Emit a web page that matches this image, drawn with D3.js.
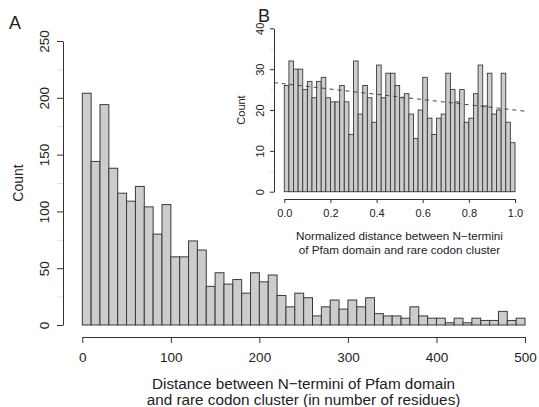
<!DOCTYPE html>
<html>
<head>
<meta charset="utf-8">
<script src="https://d3js.org/d3.v7.min.js"></script>
<style>
  body { margin: 0; background: #fff; }
  svg text { font-family: "Liberation Sans", Arial, Helvetica, sans-serif; fill: #222; }
</style>
</head>
<body>
<div id="chart"></div>
<script>
// Main histogram: counts per 10-residue bin, 0..500
const mainBinWidth = 10
const mainCounts = [204, 144, 194, 138, 116, 109, 122, 104, 80, 106,
                    60, 60, 74, 66, 34, 46, 36, 40, 28, 46,
                    38, 44, 26, 16, 28, 24, 8, 16, 22, 14,
                    22, 16, 24, 10, 8, 8, 6, 16, 8, 6,
                    6, 2, 6, 2, 6, 4, 4, 12, 4, 6]
const mainXTicks = [0, 100, 200, 300, 400, 500]
const mainYTicks = [0, 50, 100, 150, 200, 250]
const mainYMinor = [25, 75, 125, 175, 225]

// Inset histogram: counts per 0.02 bin, 0..1
const insetBinWidth = 0.02
const insetCounts = [26, 32, 30, 30, 25, 27, 23, 27, 28, 23,
                     22, 22, 26, 22, 14, 32, 19, 26, 23, 17,
                     31, 23, 29, 29, 26, 23, 24, 19, 13, 20,
                     28, 18, 14, 18, 19, 29, 25, 22, 25, 17,
                     18, 24, 31, 21, 29, 19, 20, 29, 17, 12]
const insetXTicks = [0, 0.2, 0.4, 0.6, 0.8, 1.0]
const insetYTicks = [0, 10, 20, 30, 40]
const insetYMinor = [5, 15, 25, 35]
// dashed trend line, endpoints
const trendX = [-0.045, 1.045]
const trendY = [26.7, 19.7]

const w = 539, h = 407
const svg = d3.select("#chart").append("svg").attr("width", w).attr("height", h)

const barFill = "#cccccc", barStroke = "#3a3a3a", axisCol = "#333"
const font = "Liberation Sans, Arial, sans-serif"

// ---------- main panel ----------
const x = d3.scaleLinear().domain([0, 500]).range([82.3, 525])
const y = d3.scaleLinear().domain([0, 250]).range([325, 41])

svg.append("g").selectAll("rect")
  .data(mainCounts)
  .enter()
  .append("rect")
  .attr("x", (d, i) => x(i * mainBinWidth))
  .attr("y", d => y(d))
  .attr("width", (d, i) => x((i + 1) * mainBinWidth) - x(i * mainBinWidth))
  .attr("height", d => y(0) - y(d))
  .attr("fill", barFill)
  .attr("stroke", barStroke)
  .attr("stroke-width", 1)

const xAxis = svg.append("g")
  .attr("transform", "translate(0,337)")
  .call(d3.axisBottom(x).tickValues(mainXTicks).tickFormat(d3.format("d"))
    .tickSize(6).tickSizeOuter(0).tickPadding(9))
xAxis.selectAll("path, line").attr("stroke", axisCol)
xAxis.selectAll("text").attr("font-size", 13.5).style("font-family", font)

const yAxis = svg.append("g")
  .attr("transform", "translate(63,0)")
  .call(d3.axisLeft(y).tickValues(mainYTicks).tickSize(6).tickSizeOuter(0))
yAxis.selectAll("path, line").attr("stroke", axisCol)
yAxis.selectAll("text")
  .attr("x", 0).attr("y", -14).attr("dy", 0)
  .attr("transform", "rotate(-90)")
  .attr("text-anchor", "middle")
  .attr("font-size", 13.5)
  .style("font-family", font)

const yMinor = svg.append("g")
  .attr("transform", "translate(63,0)")
  .call(d3.axisLeft(y).tickValues(mainYMinor).tickSize(6).tickFormat(""))
yMinor.select("path").remove()
yMinor.selectAll("line").attr("stroke", "#e2e2e2")

svg.append("text")
  .attr("transform", "translate(23,183) rotate(-90)")
  .attr("text-anchor", "middle")
  .attr("font-size", 14)
  .text("Count")

svg.append("text").attr("x", 303.5).attr("y", 388.5).attr("text-anchor", "middle")
  .attr("font-size", 15.3).text("Distance between N\u2212termini of Pfam domain")
svg.append("text").attr("x", 303.5).attr("y", 405).attr("text-anchor", "middle")
  .attr("font-size", 15.3).text("and rare codon cluster (in number of residues)")

svg.append("text").attr("x", 9).attr("y", 29).attr("font-size", 18).text("A")

// ---------- inset panel ----------
const xi = d3.scaleLinear().domain([0, 1]).range([284.3, 515])
const yi = d3.scaleLinear().domain([0, 40]).range([191.7, 28.3])

svg.append("g").selectAll("rect")
  .data(insetCounts)
  .enter()
  .append("rect")
  .attr("x", (d, i) => xi(i * insetBinWidth))
  .attr("y", d => yi(d))
  .attr("width", (d, i) => xi((i + 1) * insetBinWidth) - xi(i * insetBinWidth))
  .attr("height", d => yi(0) - yi(d))
  .attr("fill", barFill)
  .attr("stroke", barStroke)
  .attr("stroke-width", 0.9)

svg.append("path")
  .datum(trendX.map((v, i) => [v, trendY[i]]))
  .attr("d", d3.line().x(d => xi(d[0])).y(d => yi(d[1])))
  .attr("fill", "none")
  .attr("stroke", "#444")
  .attr("stroke-width", 1)
  .attr("stroke-dasharray", "4,4")

const xiAxis = svg.append("g")
  .attr("transform", "translate(0,199)")
  .call(d3.axisBottom(xi).tickValues(insetXTicks).tickFormat(d3.format(".1f"))
    .tickSize(4).tickSizeOuter(0).tickPadding(6))
xiAxis.selectAll("path, line").attr("stroke", axisCol)
xiAxis.selectAll("text").attr("font-size", 11).style("font-family", font)

const yiAxis = svg.append("g")
  .attr("transform", "translate(274,0)")
  .call(d3.axisLeft(yi).tickValues(insetYTicks).tickSize(4).tickSizeOuter(0))
yiAxis.selectAll("path, line").attr("stroke", axisCol)
yiAxis.selectAll("text")
  .attr("x", 0).attr("y", -10).attr("dy", 0)
  .attr("transform", "rotate(-90)")
  .attr("text-anchor", "middle")
  .attr("font-size", 11)
  .style("font-family", font)

const yiMinor = svg.append("g")
  .attr("transform", "translate(274,0)")
  .call(d3.axisLeft(yi).tickValues(insetYMinor).tickSize(4).tickFormat(""))
yiMinor.select("path").remove()
yiMinor.selectAll("line").attr("stroke", "#e2e2e2")

svg.append("text")
  .attr("transform", "translate(245,110) rotate(-90)")
  .attr("text-anchor", "middle")
  .attr("font-size", 11)
  .text("Count")

svg.append("text").attr("x", 399.5).attr("y", 240).attr("text-anchor", "middle")
  .attr("font-size", 11.7).text("Normalized distance between N\u2212termini")
svg.append("text").attr("x", 399.5).attr("y", 254).attr("text-anchor", "middle")
  .attr("font-size", 11.7).text("of Pfam domain and rare codon cluster")

svg.append("text").attr("x", 258).attr("y", 22).attr("font-size", 18).text("B")
</script>
</body>
</html>
